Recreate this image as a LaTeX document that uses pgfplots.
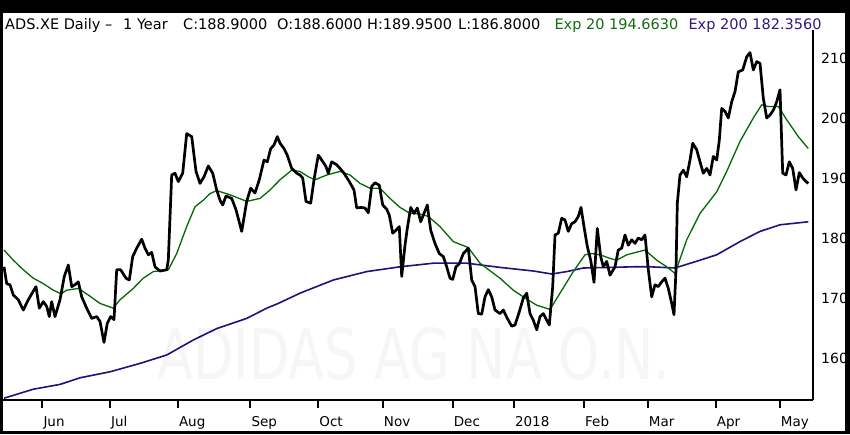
\documentclass[border=0pt]{standalone}
\usepackage{fontspec}
\setmainfont{DejaVu Sans}
\usepackage{pgfplots}
\pgfplotsset{compat=1.18}
\definecolor{emagreen}{RGB}{0,105,0}
\definecolor{emapurple}{RGB}{42,12,125}
\definecolor{hdrgreen}{RGB}{20,110,20}
\definecolor{hdrpurple}{RGB}{50,25,130}
\definecolor{wm}{RGB}{246,246,246}

\pgfplotstableread{
x y
4 175.2
6.7 172.4
10 172.2
13.3 170.5
18.3 169.7
23.3 168.0
28.3 169.7
36 171.9
39.3 168.3
43.3 169.4
46.7 168.6
49.3 166.9
51.7 169.4
55 166.9
60 169.7
64.3 173.6
68.3 175.5
71.7 171.9
75 172.2
78.3 172.7
81.7 170.2
86.7 168.3
91.7 166.6
96.7 166.9
100 166.1
104 162.6
107.3 165.8
110.7 166.9
114 166.4
116.7 174.7
120.7 174.7
126 173.3
129.3 173.0
132.7 176.9
136.7 178.3
141.7 179.8
145 178.3
148.3 177.2
151.7 177.6
155 175.2
160 174.5
166.7 174.7
168.3 176.3
171.7 190.5
175 190.8
178.3 189.4
182.7 190.8
186.7 197.4
191.7 196.9
196 191.1
200 189.1
204 190.2
208.3 192.0
212.7 190.8
216.7 188.0
220 186.3
222.7 185.5
226 187.0
231.7 186.6
236 184.7
241.7 181.1
246.7 186.1
250.7 188.3
255 187.5
259.3 189.7
264 193.0
267.3 192.7
270.7 194.9
274 195.5
277.3 196.9
280 195.8
284 194.9
287.3 193.8
291.7 191.6
296.7 190.8
300 190.5
302.7 190.0
306 186.1
310.7 185.8
314 189.7
318.3 193.8
321.7 193.0
326 191.9
328.3 190.8
331.7 192.7
336.7 192.2
340 191.6
344 190.8
349.3 189.4
354 188.0
356.7 185.0
360.7 185.1
365 185.0
368.3 184.2
371.7 188.6
375 189.2
379.3 188.8
382.7 185.5
386.7 184.8
389.3 183.8
392.7 180.8
396 181.3
399.3 181.9
401.7 173.6
405 178.8
407.3 181.6
410.7 185.1
414 184.1
417.3 185.0
420.7 182.7
423.3 183.8
427.3 185.5
430.7 181.3
435 179.1
439.3 177.4
443.3 176.9
446.7 175.2
450 173.3
452.7 173.1
456 175.2
459.3 175.7
463.3 177.4
468.3 178.3
471.7 173.0
475 171.9
478.3 167.4
481.7 167.3
485 170.2
488.3 171.4
491.7 170.2
495 168.0
500 167.4
503.3 168.0
507.3 166.6
511.7 165.3
515 165.5
519.3 167.7
523.3 170.0
526.7 170.8
530 167.4
533.3 166.3
536.7 164.7
540 166.9
543.3 167.4
546.7 166.3
549.3 165.5
552.7 171.9
555 180.5
558.3 180.8
561.7 183.3
565 183.0
568.3 181.1
571.7 182.4
575 182.7
578.3 183.6
581 185.1
584 181.9
587.3 178.6
590.7 176.3
594 172.6
597.3 181.6
600.7 176.9
603.3 175.2
606.7 176.1
610 173.8
615 175.2
618.3 178.0
621.7 178.3
625 180.5
628.3 178.8
631.7 179.7
635 179.1
638.3 180.0
641.7 179.7
645 180.5
648.3 174.7
651.7 170.2
655 172.2
658.3 171.9
661.7 172.7
665 173.3
668.3 171.6
671.7 169.1
674 167.2
676 174.7
677.3 185.8
680 190.5
683.3 191.3
686.7 190.2
690 193.0
692.7 195.8
696.7 194.7
700 192.7
703.3 190.8
706.7 191.6
710 190.5
713.3 193.6
716.7 193.0
719.3 196.3
721.7 201.6
725 201.1
728.3 200.0
731.7 202.7
735 204.4
738.3 207.7
742.7 208.0
746.7 210.2
750 210.9
753.3 208.0
756.7 209.4
760 209.1
763.3 203.3
766.7 200.0
770 200.5
773.3 201.3
776.7 202.7
780 204.7
782.7 190.8
786 190.5
789.3 192.7
792.7 191.6
796 188.0
799.3 190.9
802.7 190.0
806 189.4
808.3 189.1
}\closetable

\pgfplotstableread{
x y
4 178.0
13.3 176.3
23.3 174.7
33.3 173.3
43.3 172.4
53.3 171.3
61 170.7
66.7 171.3
78.3 171.6
88.3 170.5
100 169.1
113.3 168.3
120 169.7
133.3 171.6
143.3 173.3
153.3 174.4
168.3 174.7
176.7 177.4
186.7 181.9
195 185.2
203.3 186.3
210 187.4
216.7 187.9
230 187.2
246.7 186.1
260 186.6
270 188.0
280 189.7
291.7 191.3
300 191.1
308.3 190.2
315 189.7
326.7 190.5
340 191.1
350 190.5
360 189.1
370 188.3
380 188.3
390 186.6
400 185.1
410 184.1
420 184.0
428.3 183.6
440 181.9
453.3 179.4
468.3 178.4
480 175.8
500 173.3
513.3 171.3
525 170.0
536.7 168.8
550 168.1
560 170.8
573.3 174.4
585 177.2
591.7 177.4
600 177.2
610 176.6
616.7 176.3
626.7 177.2
645 178.0
656.7 176.3
666.7 175.2
675 174.1
686.7 179.7
700 184.1
716.7 187.7
726.7 191.1
740 196.1
753.3 200.0
761.7 202.2
768.3 201.9
778.3 201.9
786.7 199.7
798.3 196.9
808.3 194.9
}\emaA

\pgfplotstableread{
x y
4 153.3
33.3 154.8
60 155.6
80 156.7
110 157.7
140 159.1
166.7 160.5
193.3 163.0
216.7 164.9
246.7 166.6
266.7 168.3
278.3 169.1
300 170.8
333.3 173.0
366.7 174.4
400 175.2
433.3 175.8
466.7 175.8
500 175.1
533.3 174.5
551.7 174.0
566.7 174.4
583.3 175.0
610 175.1
633.3 175.2
650 175.2
675 175.0
700 176.3
716.7 177.2
740 179.4
760 181.1
780 182.2
808.3 182.7
}\emaB

\begin{document}
\begin{tikzpicture}[x=1pt,y=1pt]
\useasboundingbox (0,0) rectangle (850,434);
\fill[black] (0,0) rectangle (850,434);
\fill[white] (3,3) rectangle (845,421);
\node[text=wm, font=\fontsize{70}{70}\selectfont, xscale=0.75, inner sep=0pt] at (414,80) {ADIDAS AG NA O.N.};
\begin{scope}[every node/.style={anchor=base west, inner sep=0pt, font=\fontsize{14.5}{18}\selectfont}]
\node at (5,404.7) {ADS.XE Daily –};
\node at (123,404.7) {1 Year};
\node at (183,404.7) {C:188.9000};
\node at (277,404.7) {O:188.6000};
\node at (367,404.7) {H:189.9500};
\node at (458,404.7) {L:186.8000};
\node[text=hdrgreen] at (554.3,404.7) {Exp 20 194.6630};
\node[text=hdrpurple] at (688.3,404.7) {Exp 200 182.3560};
\end{scope}
\begin{axis}[
  at={(3pt,34pt)}, anchor=south west,
  scale only axis, width=810pt, height=370pt,
  xmin=3, xmax=813, ymin=153, ymax=214.667,
  axis x line=bottom, axis y line=right,
  axis line style={-, line width=2.5pt, black},
  xtick={42.3,110,177.8,250.4,318.2,382.7,452.6,513.8,584,647.7,715.7,779.7},
  xticklabels={},
  xtick align=outside,
  major tick length=8pt,
  xtick style={line width=2pt, black},
  ytick={160,170,180,190,200,210},
  ytick style={draw=none},
  /pgf/number format/assume math mode=true,
  yticklabel style={anchor=west, inner sep=0pt, xshift=4pt, font=\fontsize{14}{14}\selectfont},
  clip=false,
]
\addplot[emapurple, line width=1.6pt] table[x=x,y=y] {\emaB};
\addplot[emagreen, line width=1.3pt] table[x=x,y=y] {\emaA};
\addplot[black, line width=2.7pt, line join=round] table[x=x,y=y] {\closetable};
\end{axis}
\begin{scope}[every node/.style={anchor=base west, inner sep=0pt, font=\fontsize{13.5}{14}\selectfont}]
\node at (43.3,7.3) {Jun};
\node at (111,7.3) {Jul};
\node at (178.8,7.3) {Aug};
\node at (251.4,7.3) {Sep};
\node at (319.2,7.3) {Oct};
\node at (383.7,7.3) {Nov};
\node at (453.6,7.3) {Dec};
\node at (514.8,7.3) {2018};
\node at (585,7.3) {Feb};
\node at (648.7,7.3) {Mar};
\node at (716.7,7.3) {Apr};
\node at (780.7,7.3) {May};
\end{scope}
\end{tikzpicture}
\end{document}
